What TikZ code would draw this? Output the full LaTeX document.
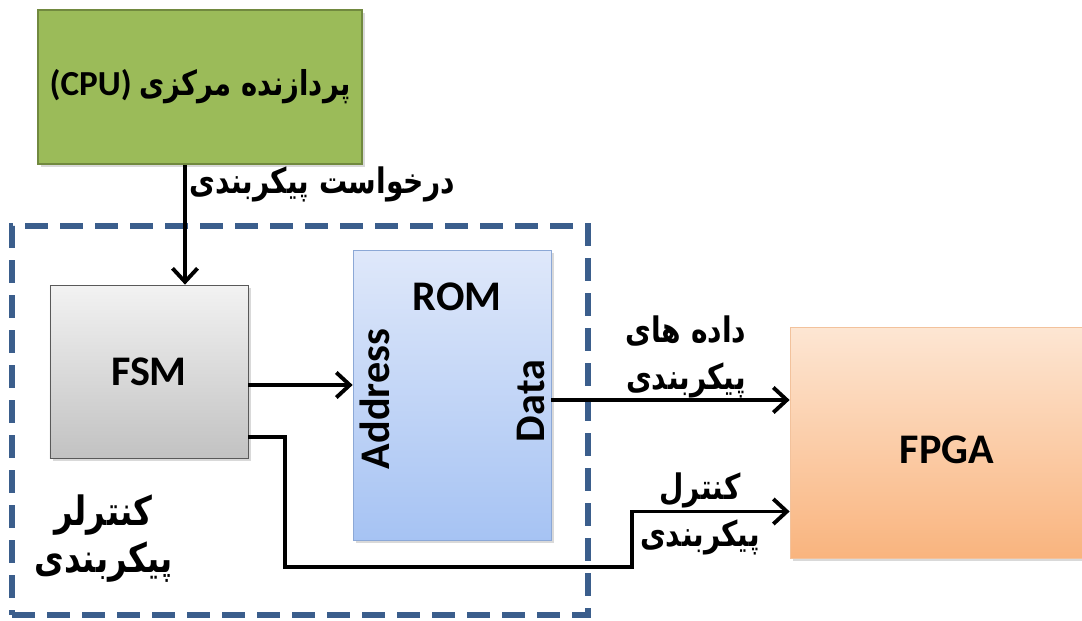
\documentclass[tikz,border=0pt]{standalone}
\usepackage{fontspec}
\setmainfont{Carlito}
\newfontfamily\arabicfont[Script=Arabic,FakeStretch=0.8]{DejaVu Sans}
\TeXXeTstate=1
\usetikzlibrary{arrows.meta,shadows}
\definecolor{cpugreen}{HTML}{9BBB59}
\definecolor{cpuedge}{HTML}{71893F}
\definecolor{ctrlblue}{HTML}{3B5E8C}
\definecolor{romtop}{HTML}{DFE8FA}
\definecolor{rombot}{HTML}{A6C3F3}
\definecolor{romedge}{HTML}{8CA8D6}
\definecolor{fpgatop}{HTML}{FDE6D3}
\definecolor{fpgabot}{HTML}{F9B47E}
\definecolor{fpgaedge}{HTML}{F2C29C}
\begin{document}
\begin{tikzpicture}[
  box/.style={draw,minimum width=3.96cm,inner sep=0pt,font=\bfseries\fontsize{24}{28}\selectfont},
  shd/.style={drop shadow={opacity=0.3,shadow xshift=0.06cm,shadow yshift=-0.06cm}},
  arr/.style={-{Straight Barb[length=2.7mm,width=5mm]},line width=2.2pt},
  fa/.style={font=\arabicfont\bfseries\fontsize{20}{27}\selectfont,align=center,inner sep=0pt}]
\useasboundingbox (0,0) rectangle (21.64,12.4);
\node[draw=ctrlblue,line width=3.4pt,dash pattern=on 0.46cm off 0.24cm,minimum width=11.52cm,minimum height=7.78cm] (ctrl) at (6.0,3.99) {};
\node[box,shd,fill=cpugreen,draw=cpuedge,line width=1pt,minimum width=6.48cm,minimum height=3.08cm] (cpu) at (4.0,10.66)
  {\fontsize{20}{24}\selectfont(CPU) {\arabicfont\fontsize{19.5}{24}\selectfont\beginR پردازنده مرکزی\endR}};
\node[box,shd,top color=gray!10,bottom color=gray!48,draw=gray!70!black,minimum height=3.46cm] (fsm) at (2.98,4.97) {FSM};
\node[box,shd,top color=romtop,bottom color=rombot,draw=romedge,minimum height=5.8cm] (rom) at (9.04,4.5) {};
\node[font=\bfseries\fontsize{24}{28}\selectfont] (romlbl) at (9.14,6.46) {ROM};
\node[rotate=90,font=\bfseries\fontsize{24}{28}\selectfont] (addr) at (7.5,4.42) {Address};
\node[rotate=90,font=\bfseries\fontsize{24}{28}\selectfont] (data) at (10.62,4.38) {Data};
\node[box,shd,top color=fpgatop,bottom color=fpgabot,draw=fpgaedge,minimum width=6.28cm,minimum height=4.62cm] (fpga) at (18.94,3.55) {};
\node[font=\bfseries\fontsize{24}{28}\selectfont] (fpgalbl) at (18.94,3.4) {FPGA};
% connectors
\coordinate (reqx) at (3.7,0);
\coordinate (c1) at (5.7,1.06);
\coordinate (c2) at (12.64,1.06);
\draw[arr] (cpu.south -| reqx) -- (fsm.north -| reqx);
\node[fa] (reqlbl) at (6.44,8.72) {\beginR درخواست پیکربندی\endR};
\draw[arr] ([yshift=-0.27cm]fsm.east) -- ([yshift=-0.27cm]fsm.east -| rom.west);
\draw[arr] ([yshift=-0.1cm]rom.east) -- ([yshift=-0.1cm]rom.east -| fpga.west);
\node[fa] (datalbl) at (13.72,5.26) {\beginR داده های\endR\\\beginR پیکربندی\endR};
\draw[arr,line join=miter] ([yshift=-1.31cm]fsm.east) -| (c1) -- (c2) |- ([yshift=-1.38cm]fpga.west);
\node[fa] (cfglbl) at (14.0,2.12) {\beginR کنترل\endR\\\beginR پیکربندی\endR};
\node[fa,font=\arabicfont\bfseries\fontsize{23}{27}\selectfont] (ctrllbl) at (2.07,1.63) {\beginR کنترلر\endR\\\beginR پیکربندی\endR};
\end{tikzpicture}
\end{document}
